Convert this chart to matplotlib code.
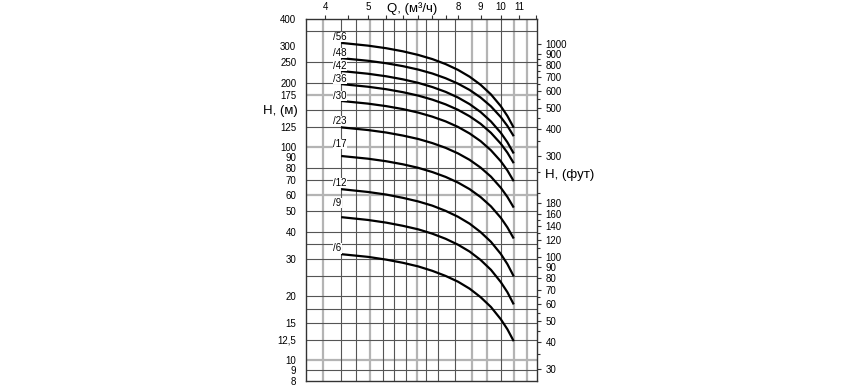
import matplotlib.pyplot as plt
from matplotlib.ticker import FixedLocator, FixedFormatter, NullFormatter

plt.rcParams['font.family'] = ['Liberation Sans', 'DejaVu Sans']

# подача, м3/ч
q = [4.35, 5, 5.5, 6, 6.5, 7, 7.5, 8, 8.5, 9, 9.5, 10, 10.35, 10.7]

# напор по числу ступеней, м
h56 = [309, 300.0, 291.7, 282.1, 271.3, 259.3, 245.7, 230.8, 214.4, 196.5, 177.1, 156.0, 140.3, 123.6]
h48 = [262, 254.7, 248.0, 240.3, 231.6, 221.9, 210.9, 198.9, 185.8, 171.3, 155.6, 138.6, 126.0, 112.7]
h42 = [228, 221.4, 215.4, 208.4, 200.6, 191.7, 182.0, 171.2, 159.4, 146.4, 132.2, 117.0, 105.6, 93.5]
h36 = [198, 192.4, 187.3, 181.4, 174.8, 167.3, 159.0, 149.9, 139.8, 128.9, 116.9, 104.0, 94.4, 84.2]
h30 = [165, 160.3, 156.0, 151.1, 145.5, 139.2, 132.3, 124.6, 116.1, 106.9, 96.8, 86.0, 77.9, 69.3]
h23 = [124, 120.5, 117.3, 113.5, 109.4, 104.6, 99.4, 93.6, 87.3, 80.3, 72.8, 64.6, 58.5, 52.1]
h17 = [91, 88.4, 86.0, 83.2, 80.1, 76.5, 72.6, 68.3, 63.6, 58.4, 52.8, 46.7, 42.1, 37.3]
h12 = [63.6, 61.7, 60.0, 57.9, 55.7, 53.2, 50.3, 47.2, 43.8, 40.0, 36.0, 31.6, 28.3, 24.8]
h9 = [47, 45.6, 44.3, 42.8, 41.2, 39.3, 37.2, 34.9, 32.4, 29.6, 26.6, 23.3, 20.9, 18.3]
h6 = [31.5, 30.6, 29.7, 28.7, 27.6, 26.3, 24.9, 23.4, 21.7, 19.8, 17.8, 15.6, 14.0, 12.3]

names = ["/56", "/48", "/42", "/36", "/30", "/23", "/17", "/12", "/9", "/6"]
curves = [h56, h48, h42, h36, h30, h23, h17, h12, h9, h6]
label_h = [329, 277, 241, 209, 174, 133, 103.5, 68, 54.7, 33.6]

h_ticks = [400, 300, 250, 200, 175, 125, 100, 90, 80, 70, 60, 50, 40, 30, 20, 15, 12.5, 10, 9, 8]
h_labels = ["400", "300", "250", "200", "175", "125", "100", "90", "80", "70", "60",
            "50", "40", "30", "20", "15", "12,5", "10", "9", "8"]
ft_ticks = [1000, 900, 800, 700, 600, 500, 400, 300, 180, 160, 140, 120, 100,
            90, 80, 70, 60, 50, 40, 30]
ft_minor = [35, 45, 55, 65, 110, 130, 150, 200, 250, 350, 450, 550, 650, 750, 850]
q_ticks = [4, 5, 6, 7, 8, 9, 10, 11, 12]
q_labels = ["4", "5", "", "", "8", "9", "10", "11", ""]
q_minor = [4.5, 5.5, 6.5, 7.5]

# сетка
vgrid_dark = [4.35, 4.70, 5.42, 5.74, 6.11, 6.78, 7.19, 7.86, 10.0]
vgrid_gray = [3.96, 5.06, 6.47, 8.59, 9.29, 10.7, 11.46]
hgrid_dark = [350, 250, 200, 150, 125, 80, 70, 50, 40, 35, 30, 25, 20, 17.5, 15, 12.5, 9]
hgrid_gray = [175, 100, 60, 10]

fig = plt.figure(figsize=(8.68, 3.88), dpi=100)
ax = fig.add_axes([306 / 868, 1 - 381 / 388, 231 / 868, 362 / 388])
ax.set_xscale('log')
ax.set_yscale('log')
ax.set_xlim(3.62, 12.08)
ax.set_ylim(8, 400)

for x in vgrid_gray:
    ax.axvline(x, color='#b4b4b4', lw=1.6, zorder=0)
for y in hgrid_gray:
    ax.axhline(y, color='#b4b4b4', lw=1.6, zorder=0)
for x in vgrid_dark:
    ax.axvline(x, color='#555555', lw=0.8, zorder=0.5)
for y in hgrid_dark:
    ax.axhline(y, color='#555555', lw=0.8, zorder=0.5)

for name, h, lh in zip(names, curves, label_h):
    ax.plot(q, h, color='black', lw=1.6, solid_capstyle='butt', zorder=3)
    ax.text(4.17, lh, name, fontsize=7, ha='left', va='center', zorder=4,
            bbox=dict(facecolor='white', edgecolor='none', pad=0.3))

for s in ax.spines.values():
    s.set_color('#333333')
    s.set_linewidth(1)

ax.xaxis.tick_top()
ax.xaxis.set_major_locator(FixedLocator(q_ticks))
ax.xaxis.set_major_formatter(FixedFormatter(q_labels))
ax.xaxis.set_minor_locator(FixedLocator(q_minor))
ax.xaxis.set_minor_formatter(NullFormatter())
ax.tick_params(axis='x', which='both', direction='out', length=3, width=0.8,
               labelsize=7, pad=2, colors='#333333', labelcolor='black')

ax.yaxis.set_major_locator(FixedLocator(h_ticks))
ax.yaxis.set_major_formatter(FixedFormatter(h_labels))
ax.yaxis.set_minor_locator(FixedLocator([]))
ax.tick_params(axis='y', which='both', length=0, labelsize=7, pad=7)

ax2 = ax.twinx()
ax2.set_yscale('log')
ax2.set_ylim(8 * 3.281, 400 * 3.281)
ax2.yaxis.set_major_locator(FixedLocator(ft_ticks))
ax2.yaxis.set_major_formatter(FixedFormatter([str(t) for t in ft_ticks]))
ax2.yaxis.set_minor_locator(FixedLocator(ft_minor))
ax2.yaxis.set_minor_formatter(NullFormatter())
ax2.tick_params(axis='y', which='major', direction='out', length=3, width=0.8,
                labelsize=7, pad=3, colors='#333333', labelcolor='black')
ax2.tick_params(axis='y', which='minor', direction='out', length=2, width=0.8,
                colors='#333333')
for s in ax2.spines.values():
    s.set_visible(False)

fig.text(412 / 868, 1 - 9 / 388, "Q, (м³/ч)", fontsize=9.5, ha='center', va='center')
fig.text(298 / 868, 1 - 111 / 388, "H, (м)", fontsize=9.5, ha='right', va='center')
fig.text(545 / 868, 1 - 175 / 388, "H, (фут)", fontsize=9.5, ha='left', va='center')

fig.savefig("out.png", dpi=100)
